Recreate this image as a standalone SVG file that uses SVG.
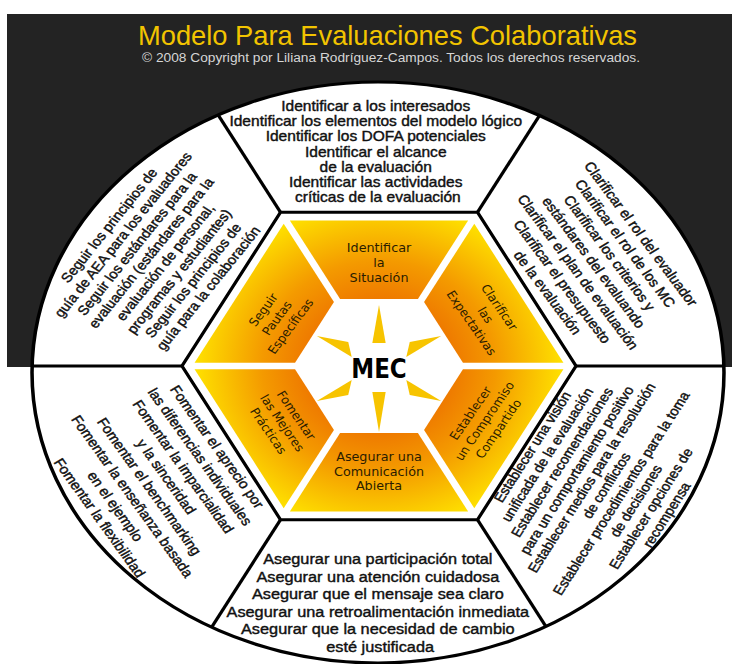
<svg xmlns="http://www.w3.org/2000/svg" width="732" height="664" viewBox="0 0 732 664">
  <defs>
    <style>
      .title { font-family: "Liberation Sans", Arial, sans-serif; fill: #f2c400; }
      .copy { font-family: "Liberation Sans", Arial, sans-serif; fill: #d6d6d6; }
      .outer { font-family: "Liberation Sans", Arial, sans-serif; fill: #111; stroke: #111; stroke-width: 0.4; text-anchor: middle; }
      .seg { font-family: "DejaVu Sans", Verdana, sans-serif; font-size: 11.5px; fill: #2a1c00; text-anchor: middle; }
      .rule { stroke: #000; stroke-width: 3; fill: none; stroke-linejoin: miter; }
      .petal { fill: url(#ring); }
      .ray { fill: #f7c400; }
    </style>
    <!-- warm ring: deep orange near the hub, bright yellow at the rim -->
    <radialGradient id="ring" gradientUnits="userSpaceOnUse" cx="0" cy="0" r="170">
      <stop offset="0.38" stop-color="#ee7800"/>
      <stop offset="0.62" stop-color="#f49a00"/>
      <stop offset="1" stop-color="#ffe600"/>
    </radialGradient>
    <clipPath id="disc">
      <ellipse cx="-0.9" cy="6.5" rx="311.7" ry="290.5"/>
    </clipPath>
    <polygon id="petal" points="-35.05,-67.1 35.05,-67.1 80.3,-145.5 -80.3,-145.5"/>
  </defs>

  <!-- header band -->
  <rect x="7" y="14" width="725" height="353" fill="#232323"/>
  <text class="title" x="387.5" y="45" font-size="28" text-anchor="middle" textLength="499" lengthAdjust="spacingAndGlyphs">Modelo Para Evaluaciones Colaborativas</text>
  <text class="copy" x="391" y="62" font-size="12" text-anchor="middle" textLength="498" lengthAdjust="spacingAndGlyphs">© 2008 Copyright por Liliana Rodríguez-Campos. Todos los derechos reservados.</text>

  <!-- main wheel, drawn on a regular hexagon and widened horizontally -->
  <g transform="translate(379,366) scale(1.11,1)">
    <ellipse cx="-0.9" cy="6.5" rx="311.7" ry="290.5" fill="#fff" stroke="#000" stroke-width="3.2"/>

    <g id="connectors" clip-path="url(#disc)" class="rule">
      <line x1="-88.75" y1="-153.7" x2="-266" y2="-461"/>
      <line x1="88.75" y1="-153.7" x2="266" y2="-461"/>
      <line x1="-177.5" y1="0" x2="-500" y2="0"/>
      <line x1="177.5" y1="0" x2="500" y2="0"/>
      <line x1="-88.75" y1="153.7" x2="-266" y2="461"/>
      <line x1="88.75" y1="153.7" x2="266" y2="461"/>
      <polygon points="-177.5,0 -88.75,-153.7 88.75,-153.7 177.5,0 88.75,153.7 -88.75,153.7"/>
    </g>

    <!-- outer ring: activities -->
    <g id="act-identificar">
      <text class="outer" font-size="14">
        <tspan x="-1" y="-255">Identificar a los interesados</tspan>
        <tspan x="-1" y="-239.8">Identificar los elementos del modelo lógico</tspan>
        <tspan x="-1" y="-224.6">Identificar los DOFA potenciales</tspan>
        <tspan x="-1" y="-209.4">Identificar el alcance</tspan>
        <tspan x="-1" y="-194.2">de la evaluación</tspan>
        <tspan x="-1" y="-179">Identificar las actividades</tspan>
        <tspan x="-1" y="-163.8">críticas de la evaluación</tspan>
      </text>
    </g>

    <g id="act-clarificar">
      <text class="outer" font-size="13.5" transform="translate(194.6,-102) rotate(56)">
        <tspan x="0" y="-46.5">Clarificar el rol del evaluador</tspan>
        <tspan x="0" y="-29.4">Clarificar el rol de los MC</tspan>
        <tspan x="0" y="-12.3">Clarificar los criterios y</tspan>
        <tspan x="0" y="4.8">estándares del evaluando</tspan>
        <tspan x="0" y="21.9">Clarificar el plan de evaluación</tspan>
        <tspan x="0" y="39">Clarificar el presupuesto</tspan>
        <tspan x="0" y="56.1">de la evaluación</tspan>
      </text>
    </g>

    <g id="act-establecer">
      <text class="outer" font-size="13.2" transform="translate(199,114) rotate(-60)">
        <tspan x="0" y="-64.6">Establecer una visión</tspan>
        <tspan x="0" y="-49.2">unificada de la evaluación</tspan>
        <tspan x="0" y="-33.8">Establecer recomendaciones</tspan>
        <tspan x="0" y="-18.4">para un comportamiento positivo</tspan>
        <tspan x="0" y="-3">Establecer medios para la resolución</tspan>
        <tspan x="0" y="12.4">de conflictos</tspan>
        <tspan x="0" y="27.8">Establecer procedimientos para la toma</tspan>
        <tspan x="0" y="43.2">de decisiones</tspan>
        <tspan x="0" y="58.6">Establecer opciones de</tspan>
        <tspan x="0" y="74">recompensa</tspan>
      </text>
    </g>

    <g id="act-asegurar">
      <text class="outer" font-size="14.7">
        <tspan x="1" y="198">Asegurar una participación total</tspan>
        <tspan x="1" y="215.6">Asegurar una atención cuidadosa</tspan>
        <tspan x="1" y="233.2">Asegurar que el mensaje sea claro</tspan>
        <tspan x="1" y="250.8">Asegurar una retroalimentación inmediata</tspan>
        <tspan x="1" y="268.4">Asegurar que la necesidad de cambio</tspan>
        <tspan x="1" y="286">esté justificada</tspan>
      </text>
    </g>

    <g id="act-fomentar">
      <text class="outer" font-size="13.5" transform="translate(-198.2,117) rotate(57)">
        <tspan x="0" y="-58.9">Fomentar el aprecio por</tspan>
        <tspan x="0" y="-40.7">las diferencias individuales</tspan>
        <tspan x="0" y="-22.5">Fomentar la imparcialidad</tspan>
        <tspan x="0" y="-4.3">y la sinceridad</tspan>
        <tspan x="0" y="13.9">Fomentar el benchmarking</tspan>
        <tspan x="0" y="32.1">Fomentar la enseñanza basada</tspan>
        <tspan x="0" y="50.3">en el ejemplo</tspan>
        <tspan x="0" y="68.5">Fomentar la flexibilidad</tspan>
      </text>
    </g>

    <g id="act-seguir">
      <text class="outer" font-size="13.3" transform="translate(-198,-110) rotate(-54)">
        <tspan x="0" y="-49.9">Seguir los principios de</tspan>
        <tspan x="0" y="-34.3">guía de AEA para los evaluadores</tspan>
        <tspan x="0" y="-18.7">Seguir los estándares para la</tspan>
        <tspan x="0" y="-3.1">evaluación (estándares para la</tspan>
        <tspan x="0" y="12.5">evaluación de personal,</tspan>
        <tspan x="0" y="28.1">programas y estudiantes)</tspan>
        <tspan x="0" y="43.7">Seguir los principios de</tspan>
        <tspan x="0" y="59.3">guía para la colaboración</tspan>
      </text>
    </g>

    <!-- inner ring: the six phases -->
    <g id="phase-identificar">
      <use href="#petal" class="petal"/>
      <text class="seg"><tspan x="0" y="-114">Identificar</tspan><tspan x="0" y="-99.3">la</tspan><tspan x="0" y="-84.5">Situación</tspan></text>
    </g>
    <g id="phase-clarificar">
      <use href="#petal" class="petal" transform="rotate(60)"/>
      <text class="seg" transform="translate(96,-51) rotate(58)"><tspan x="0" y="-10.7">Clarificar</tspan><tspan x="0" y="4.1">las</tspan><tspan x="0" y="18.9">Expectativas</tspan></text>
    </g>
    <g id="phase-establecer">
      <use href="#petal" class="petal" transform="rotate(120)"/>
      <text class="seg" transform="translate(95,55) rotate(-58)"><tspan x="0" y="-10.7">Establecer</tspan><tspan x="0" y="4.1">un Compromiso</tspan><tspan x="0" y="18.9">Compartido</tspan></text>
    </g>
    <g id="phase-asegurar">
      <use href="#petal" class="petal" transform="rotate(180)"/>
      <text class="seg"><tspan x="0" y="95">Asegurar una</tspan><tspan x="0" y="109.7">Comunicación</tspan><tspan x="0" y="124.4">Abierta</tspan></text>
    </g>
    <g id="phase-fomentar">
      <use href="#petal" class="petal" transform="rotate(240)"/>
      <text class="seg" transform="translate(-87,57) rotate(58)"><tspan x="0" y="-10.7">Fomentar</tspan><tspan x="0" y="4.1">las Mejores</tspan><tspan x="0" y="18.9">Prácticas</tspan></text>
    </g>
    <g id="phase-seguir">
      <use href="#petal" class="petal" transform="rotate(300)"/>
      <text class="seg" transform="translate(-92,-48) rotate(-56)"><tspan x="0" y="-10.7">Seguir</tspan><tspan x="0" y="4.1">Pautas</tspan><tspan x="0" y="18.9">Específicas</tspan></text>
    </g>

    <!-- hub -->
    <g id="hub">
      <polygon class="ray" points="0,-61 -6,-23 6,-23"/>
      <polygon class="ray" points="0,66 -6,26 6,26"/>
      <polygon class="ray" points="-56,-30 -27.7,-24 -24.6,-9"/>
      <polygon class="ray" points="56,-30 27.7,-24 24.6,-9"/>
      <polygon class="ray" points="-56,35 -27.7,29 -24.6,14"/>
      <polygon class="ray" points="56,35 27.7,29 24.6,14"/>
      <text x="0" y="12.3" font-family="'DejaVu Sans', Verdana, sans-serif" font-weight="bold" font-size="26" fill="#000" text-anchor="middle" textLength="50" lengthAdjust="spacingAndGlyphs">MEC</text>
    </g>
  </g>
</svg>
